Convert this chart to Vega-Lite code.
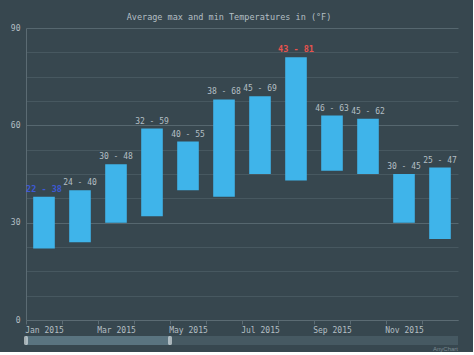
{
  "$schema": "https://vega.github.io/schema/vega-lite/v6.json",
  "background": "#37474f",
  "padding": {"left": 0, "top": 12, "right": 15, "bottom": 0},
  "title": {"text": "Average max and min Temperatures in (°F)", "anchor": "middle", "font": "DejaVu Sans Mono", "fontSize": 8.5, "fontWeight": "normal", "color": "#b4bfc4", "offset": 3},
  "config": {"view": {"stroke": null}, "font": "DejaVu Sans Mono"},
  "spacing": 2,
  "vconcat": [
    {
      "width": 432,
      "height": 292,
      "data": {"values": [
        {"month": "Jan 2015", "low": 22, "high": 38},
        {"month": "Feb 2015", "low": 24, "high": 40},
        {"month": "Mar 2015", "low": 30, "high": 48},
        {"month": "Apr 2015", "low": 32, "high": 59},
        {"month": "May 2015", "low": 40, "high": 55},
        {"month": "Jun 2015", "low": 38, "high": 68},
        {"month": "Jul 2015", "low": 45, "high": 69},
        {"month": "Aug 2015", "low": 43, "high": 81},
        {"month": "Sep 2015", "low": 46, "high": 63},
        {"month": "Oct 2015", "low": 45, "high": 62},
        {"month": "Nov 2015", "low": 30, "high": 45},
        {"month": "Dec 2015", "low": 25, "high": 47}
      ]},
      "transform": [
        {"joinaggregate": [{"op": "min", "field": "low", "as": "minLow"}, {"op": "max", "field": "high", "as": "maxHigh"}]},
        {"calculate": "datum.low + ' - ' + datum.high", "as": "label"}
      ],
      "encoding": {
        "x": {
          "field": "month", "type": "nominal", "sort": null,
          "scale": {"paddingInner": 0.4, "paddingOuter": 0.2},
          "axis": {
            "title": null, "labelAngle": 0, "tickOffset": -18, "labelOffset": 18,
            "labelExpr": "test(/^(Jan|Mar|May|Jul|Sep|Nov)/, datum.value) ? datum.label : ''",
            "tickSize": 4, "tickColor": "#5b6b73", "domainColor": "#5b6b73",
            "labelColor": "#b4bfc4", "labelFontSize": 8, "labelFont": "DejaVu Sans Mono",
            "labelPadding": 2, "labelOverlap": false, "labelBound": false
          }
        }
      },
      "layer": [
        {
          "mark": {"type": "bar", "color": "#3fb4ea"},
          "encoding": {
            "y": {
              "field": "low", "type": "quantitative",
              "scale": {"domain": [0, 90], "nice": false},
              "axis": {
                "title": null,
                "values": [0, 7.5, 15, 22.5, 30, 37.5, 45, 52.5, 60, 67.5, 75, 82.5, 90],
                "tickCount": 30,
                "labelExpr": "datum.value % 30 === 0 ? datum.label : ''",
                "ticks": false, "labelPadding": 6,
                "gridColor": {"condition": {"test": "datum.value % 30 === 0", "value": "#56676f"}, "value": "#475860"},
                "domainColor": "#5b6b73",
                "labelColor": "#b4bfc4", "labelFontSize": 8, "labelFont": "DejaVu Sans Mono",
                "minExtent": 26, "maxExtent": 26
              }
            },
            "y2": {"field": "high"}
          }
        },
        {
          "transform": [{"filter": "datum.low !== datum.minLow && datum.high !== datum.maxHigh"}],
          "mark": {"type": "text", "baseline": "bottom", "dy": -3, "fontSize": 8, "color": "#b4bfc4"},
          "encoding": {
            "y": {"field": "high", "type": "quantitative"},
            "text": {"field": "label"}
          }
        },
        {
          "transform": [{"filter": "datum.low === datum.minLow || datum.high === datum.maxHigh"}],
          "mark": {"type": "text", "baseline": "bottom", "dy": -3, "fontSize": 8.5, "fontWeight": "bold"},
          "encoding": {
            "y": {"field": "high", "type": "quantitative"},
            "text": {"field": "label"},
            "color": {
              "condition": {"test": "datum.low === datum.minLow", "value": "#3d59d4"},
              "value": "#e8534e"
            }
          }
        }
      ]
    },
    {
      "width": 432,
      "height": 9,
      "data": {"values": [
        {"part": "track", "start": 0, "end": 12},
        {"part": "selected", "start": 0, "end": 4}
      ]},
      "encoding": {
        "x": {"field": "start", "type": "quantitative", "scale": {"domain": [0, 12], "nice": false, "zero": false}, "axis": null}
      },
      "layer": [
        {
          "transform": [{"filter": "datum.part === 'track'"}],
          "mark": {"type": "rect", "color": "#465962"},
          "encoding": {"x2": {"field": "end"}}
        },
        {
          "transform": [{"filter": "datum.part === 'selected'"}],
          "mark": {"type": "rect", "color": "#5a7480"},
          "encoding": {"x2": {"field": "end"}}
        },
        {
          "transform": [{"filter": "datum.part === 'selected'"}],
          "mark": {"type": "tick", "orient": "vertical", "thickness": 4, "size": 9, "color": "#d3dbde", "cornerRadius": 1.5}
        },
        {
          "transform": [{"filter": "datum.part === 'selected'"}],
          "mark": {"type": "tick", "orient": "vertical", "thickness": 4, "size": 9, "color": "#d3dbde", "cornerRadius": 1.5},
          "encoding": {"x": {"field": "end", "type": "quantitative"}}
        }
      ],
      "title": {"text": "AnyChart", "orient": "bottom", "anchor": "end", "fontSize": 6, "color": "#7d8c93", "font": "Liberation Sans", "fontWeight": "normal", "offset": 1}
    }
  ]
}
